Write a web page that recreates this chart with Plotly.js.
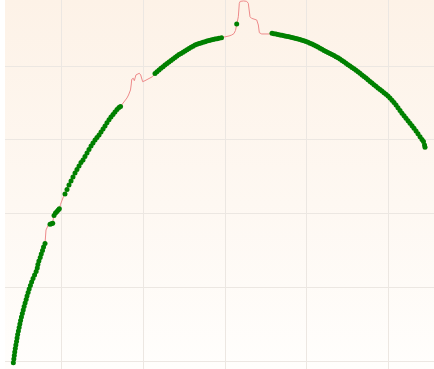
<!DOCTYPE html>
<html>
<head>
<meta charset="utf-8">
<script src="https://cdn.plot.ly/plotly-3.0.1.min.js"></script>
<style>
  html, body { margin: 0; padding: 0; background: #ffffff; }
  #chart {
    width: 434px; height: 369px;
    background: linear-gradient(to bottom, #fdf2e7 0%, #fef8f2 55%, #fffefc 100%) no-repeat 5px 0 / 429px 369px, #ffffff;
  }
</style>
</head>
<body>
<div id="chart"></div>
<script>
// Measured curve: x / y readings, with a flag per reading (1 = accepted, 0 = rejected spike/gap)
const xVals = [
  40.8, 41.4, 42.0, 42.5, 43.2, 43.9, 44.7, 45.4, 46.1, 47.0,
  47.9, 48.8, 49.7, 50.7, 51.8, 52.9, 54.0, 55.2, 56.5, 57.6,
  58.9, 60.2, 61.7, 63.2, 64.9, 66.8, 68.7, 70.1, 70.9, 72.1,
  73.7, 75.0, 76.5, 77.8, 79.6,
  80.2, 80.8, 83.6,
  85.7, 87.5, 89.0,
  89.7,
  90.6, 92.4, 94.2, 95.8, 97.1,
  98.5, 100.4, 102.2,
  104.0, 106.5, 108.9, 111.4, 113.8, 116.3, 118.7, 121.2, 123.6, 126.1,
  128.5, 131.0, 133.4, 135.9, 138.3, 140.8, 143.2, 145.7, 148.1, 150.6,
  153.0, 155.4, 157.9, 160.3, 162.8, 165.2, 167.7, 170.1, 172.0,
  174.4, 177.5, 179.9, 181.8, 184.2, 185.2, 185.7, 187.6, 188.9, 190.9,
  192.5, 195.0, 196.7, 199.1, 202.0, 205.0, 208.1, 211.1,
  214.2, 216.6, 219.1, 221.5, 224.0, 226.4, 228.9, 231.3, 233.8, 236.2,
  238.7, 241.1, 243.6, 246.0, 248.5, 250.9, 253.4, 255.8, 258.3, 260.7,
  263.2, 265.6, 268.1, 270.5, 273.0, 275.4, 277.8, 280.3, 282.7, 285.2,
  287.6, 290.1, 292.5, 295.6,
  298.7, 302.0, 304.8, 308.1, 310.9, 312.7,
  314.2,
  316.2, 317.4, 318.5, 322.5, 326.4, 328.4, 329.6, 330.5, 332.3, 334.5,
  338.7, 340.7, 341.9, 344.8, 350.1, 355.0,
  357.4, 359.8, 362.3, 364.7, 367.2, 369.6, 372.1, 374.5, 377.0, 379.4,
  381.9, 384.3, 386.8, 389.2, 391.7, 394.1, 396.6, 399.0, 401.5, 403.9,
  406.4, 408.8, 411.3, 413.7, 416.2, 418.6, 421.1, 423.5, 425.9, 428.4,
  430.8, 433.3, 435.7, 438.2, 440.6, 443.1, 445.5, 448.0, 450.4, 452.9,
  455.3, 457.8, 460.2, 462.7, 465.1, 467.6, 470.0, 472.5, 474.9, 477.4,
  479.8, 482.2, 484.7, 487.1, 489.6, 492.0, 494.5, 496.9, 499.4, 501.8,
  504.3, 506.7, 509.2, 511.6, 514.1, 516.5, 519.0, 521.4, 523.9, 526.3,
  528.8, 531.2, 533.7, 536.1, 538.6, 541.0, 542.8, 544.1, 544.7
];

const yVals = [
  -0.9, 4.1, 8.8, 13.5, 18.2, 23.0, 27.7, 32.4, 37.2, 41.9,
  46.6, 51.4, 56.1, 60.8, 65.5, 70.3, 75.0, 79.7, 84.5, 89.2,
  93.9, 98.7, 103.4, 108.1, 112.8, 117.6, 122.3, 127.0, 131.8, 136.5,
  141.2, 146.0, 150.7, 155.4, 160.1,
  170.3, 178.4, 185.1,
  186.1, 186.8, 187.4,
  193.3,
  198.0, 201.4, 203.4, 205.4, 207.0,
  212.8, 218.9, 223.7,
  227.0, 233.1, 239.2, 244.6, 250.0, 255.4, 260.1, 264.9, 269.6, 273.0,
  277.7, 282.4, 287.2, 291.9, 296.0, 300.0, 303.4, 306.8, 310.8, 314.9,
  318.9, 323.4, 327.4, 331.1, 334.5, 337.9, 341.2, 343.9, 345.3,
  348.7, 352.7, 356.8, 360.8, 367.6, 375.7, 382.0, 383.4, 380.2, 387.9,
  389.2, 390.2, 387.9, 378.8, 380.2, 381.8, 383.4, 385.6,
  389.9, 392.2, 394.5, 396.8, 399.1, 401.4, 403.4, 405.4, 407.4, 409.5,
  411.5, 413.5, 415.4, 417.0, 418.7, 420.3, 421.9, 423.5, 425.2, 426.8,
  428.4, 429.3, 430.3, 431.2, 432.0, 432.9, 433.7, 434.3, 435.0, 435.7,
  436.4, 436.9, 437.4, 438.1,
  438.9, 439.6, 440.6, 441.9, 443.9, 448.0,
  456.8,
  466.6, 484.7, 487.4, 487.9, 487.4, 484.7, 475.7, 466.6, 464.5, 463.5,
  462.2, 455.4, 445.0, 443.3, 442.9, 443.3,
  444.2, 443.7, 443.1, 442.6, 441.9, 441.4, 440.8, 440.3, 439.9, 439.2,
  438.5, 437.9, 437.2, 436.5, 435.7, 434.9, 434.1, 433.1, 432.0, 430.8,
  429.6, 428.4, 426.9, 425.6, 424.1, 422.6, 421.1, 419.7, 418.3, 416.9,
  415.4, 414.1, 412.6, 411.1, 409.5, 407.6, 405.7, 403.7, 401.8, 399.9,
  398.0, 396.2, 394.3, 392.2, 390.2, 388.0, 385.8, 383.7, 381.5, 379.2,
  376.9, 374.7, 372.6, 370.4, 368.3, 366.1, 363.9, 361.8, 359.6, 356.9,
  353.8, 350.6, 347.3, 343.7, 339.9, 336.2, 332.6, 329.3, 326.0, 322.6,
  319.2, 315.8, 312.3, 308.4, 304.5, 300.5, 298.0, 293.3, 290.1
];

const accepted = [
  1,1,1,1,1,1,1,1,1,1, 1,1,1,1,1,1,1,1,1,1, 1,1,1,1,1,1,1,1,1,1, 1,1,1,1,1,
  0,0,0,
  1,1,1,
  0,
  1,1,1,1,1,
  0,0,0,
  1,1,1,1,1,1,1,1,1,1, 1,1,1,1,1,1,1,1,1,1, 1,1,1,1,1,1,1,1,1,
  0,0,0,0,0,0,0,0,0,0, 0,0,0,0,0,0,0,0,
  1,1,1,1,1,1,1,1,1,1, 1,1,1,1,1,1,1,1,1,1, 1,1,1,1,1,1,1,1,1,1, 1,1,1,1,
  0,0,0,0,0,0,
  1,
  0,0,0,0,0,0,0,0,0,0, 0,0,0,0,0,0,
  1,1,1,1,1,1,1,1,1,1, 1,1,1,1,1,1,1,1,1,1, 1,1,1,1,1,1,1,1,1,1,
  1,1,1,1,1,1,1,1,1,1, 1,1,1,1,1,1,1,1,1,1, 1,1,1,1,1,1,1,1,1,1,
  1,1,1,1,1,1,1,1,1,1, 1,1,1,1,1,1,1,1,1
];

const acceptedY = yVals.map((v, i) => accepted[i] ? v : null);

const traces = [
  {
    x: xVals, y: yVals,
    type: 'scatter', mode: 'lines',
    line: { color: '#ee8a8a', width: 1 },
    hoverinfo: 'skip'
  },
  {
    x: xVals, y: acceptedY,
    type: 'scatter', mode: 'markers',
    marker: { color: '#008000', size: 5, line: { width: 0 } }
  }
];

const axisStyle = {
  showticklabels: false, ticks: '', zeroline: false, showline: false,
  showgrid: true, gridcolor: '#ece7e2', gridwidth: 1,
  tick0: 0, dtick: 100, fixedrange: true
};

const layout = {
  width: 434, height: 369,
  margin: { l: 5, r: 0, t: 0, b: 0 },
  paper_bgcolor: 'rgba(0,0,0,0)',
  plot_bgcolor: 'rgba(0,0,0,0)',
  showlegend: false,
  xaxis: Object.assign({ range: [30.6, 555.7] }, axisStyle),
  yaxis: Object.assign({ range: [-9.5, 489.2] }, axisStyle)
};

Plotly.newPlot('chart', traces, layout, { displayModeBar: false, staticPlot: true });
</script>
</body>
</html>
